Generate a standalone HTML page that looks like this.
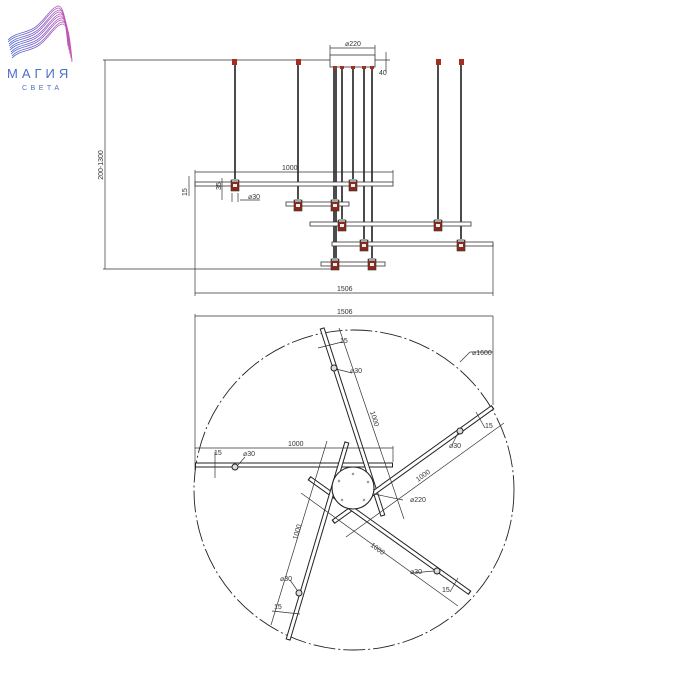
<!DOCTYPE html>
<html><head><meta charset="utf-8"><style>
html,body{margin:0;padding:0;background:#fff;}
svg{display:block;font-family:"Liberation Sans","DejaVu Sans",sans-serif;}
.t{font-size:7px;fill:#333;}
.d{stroke:#333;stroke-width:0.7;fill:none;}
.k{stroke:#111;stroke-width:1.5;}
.bar{stroke:#222;stroke-width:5;stroke-linecap:butt;}
.bari{stroke:#fff;stroke-width:3;stroke-linecap:butt;}
</style></head><body>
<svg width="700" height="700" viewBox="0 0 700 700">
<defs>
<linearGradient id="g" x1="0" x2="1"><stop offset="0" stop-color="#4a68d0"/><stop offset="1" stop-color="#c455b5"/></linearGradient>
<g id="lamp"><rect x="-4" y="-6" width="8" height="11" fill="#8b2a1a" stroke="#333" stroke-width="0.6"/><rect x="-3" y="-7" width="6" height="3" fill="#9aa"/><rect x="-2" y="-2" width="4" height="3" fill="#eee"/></g>
<g id="wave"><path d="M8,40 C16,32 24,34 34,28 C44,22 50,8 58,6 C64,5 66,24 68,44"/></g>
</defs>
<g fill="none" stroke="url(#g)" stroke-width="0.8">
<use href="#wave"/><use href="#wave" x="0" y="2"/><use href="#wave" x="1" y="4"/><use href="#wave" x="1" y="6"/>
<use href="#wave" x="2" y="8"/><use href="#wave" x="2" y="10"/><use href="#wave" x="3" y="12"/><use href="#wave" x="3" y="14"/>
<use href="#wave" x="4" y="16"/><use href="#wave" x="4" y="18"/>
</g>
<rect x="0" y="62" width="90" height="38" fill="#fff"/>
<text x="7" y="78" font-size="13" fill="#4a6fc8" letter-spacing="4">МАГИЯ</text>
<text x="22" y="90" font-size="7" fill="#4a6fc8" letter-spacing="3.5">СВЕТА</text>

<!-- TOP VIEW -->
<line class="d" x1="103" y1="60" x2="390" y2="60"/>
<line class="d" x1="103" y1="269" x2="335" y2="269"/>
<line class="d" x1="105" y1="60" x2="105" y2="269"/>
<text class="t" transform="translate(103,165) rotate(-90)" text-anchor="middle">200-1300</text>
<rect x="330" y="55" width="45" height="12" fill="#fff" stroke="#333" stroke-width="0.8"/>
<line class="d" x1="330" y1="45" x2="330" y2="55"/><line class="d" x1="375" y1="45" x2="375" y2="55"/>
<line class="d" x1="330" y1="48" x2="375" y2="48"/><text class="t" x="345" y="46">⌀220</text>
<line class="d" x1="386" y1="52" x2="386" y2="72"/><text class="t" x="379" y="75">40</text>
<g class="k">
<line x1="235" y1="62" x2="235" y2="184"/><line x1="298" y1="62" x2="298" y2="204"/>
<line x1="334" y1="68" x2="334" y2="264"/><line x1="336" y1="68" x2="336" y2="264"/>
<line x1="342" y1="68" x2="342" y2="224"/><line x1="353" y1="68" x2="353" y2="184"/>
<line x1="364" y1="68" x2="364" y2="244"/><line x1="372" y1="68" x2="372" y2="264"/>
<line x1="438" y1="62" x2="438" y2="224"/><line x1="461" y1="62" x2="461" y2="244"/>
</g>
<g fill="#a3301f"><rect x="232" y="59" width="5" height="6"/><rect x="296" y="59" width="5" height="6"/><rect x="436" y="59" width="5" height="6"/><rect x="459" y="59" width="5" height="6"/>
<rect x="333" y="66" width="4" height="3"/><rect x="340" y="66" width="4" height="3"/><rect x="351" y="66" width="4" height="3"/><rect x="362" y="66" width="4" height="3"/><rect x="370" y="66" width="4" height="3"/></g>
<g fill="#fff" stroke="#333" stroke-width="0.8">
<rect x="195" y="182" width="198" height="4"/><rect x="286" y="202" width="63" height="4"/>
<rect x="310" y="222" width="161" height="4"/><rect x="332" y="242" width="161" height="4"/>
<rect x="321" y="262" width="64" height="4"/></g>
<use href="#lamp" x="235" y="186"/><use href="#lamp" x="353" y="186"/><use href="#lamp" x="298" y="206"/><use href="#lamp" x="335" y="206"/>
<use href="#lamp" x="342" y="226"/><use href="#lamp" x="438" y="226"/><use href="#lamp" x="364" y="246"/><use href="#lamp" x="461" y="246"/>
<use href="#lamp" x="335" y="265"/><use href="#lamp" x="372" y="265"/>
<line class="d" x1="195" y1="172" x2="393" y2="172"/><line class="d" x1="393" y1="170" x2="393" y2="182"/><text class="t" x="282" y="170">1000</text>
<line class="d" x1="189" y1="176" x2="189" y2="196"/><text class="t" transform="translate(187,196) rotate(-90)">15</text>
<line class="d" x1="222" y1="178" x2="222" y2="200"/><text class="t" transform="translate(221,190) rotate(-90)">35</text>
<line class="d" x1="232" y1="193" x2="232" y2="202"/><line class="d" x1="238" y1="193" x2="238" y2="202"/><line class="d" x1="240" y1="200" x2="260" y2="200"/><text class="t" x="248" y="199">⌀30</text>
<line class="d" x1="195" y1="170" x2="195" y2="296"/><line class="d" x1="493" y1="244" x2="493" y2="296"/>
<line class="d" x1="195" y1="293" x2="493" y2="293"/><text class="t" x="337" y="291">1506</text>

<!-- BOTTOM VIEW -->
<line class="d" x1="195" y1="316" x2="493" y2="316"/><line class="d" x1="493" y1="316" x2="493" y2="405"/><line class="d" x1="195" y1="314" x2="195" y2="470"/>
<text class="t" x="337" y="314">1506</text>
<circle cx="354" cy="490" r="160" fill="none" stroke="#222" stroke-width="0.9" stroke-dasharray="22 3 2 3"/>
<line class="d" x1="460" y1="362" x2="470" y2="352"/><line class="d" x1="470" y1="352" x2="493" y2="352"/><text class="t" x="472" y="355" font-size="8">⌀1600</text>
<g>
<line class="bar" x1="195" y1="465" x2="393" y2="465"/><line class="bari" x1="196" y1="465" x2="392" y2="465"/>
<line class="bar" x1="322" y1="328" x2="383" y2="516"/><line class="bari" x1="322.3" y1="329" x2="382.7" y2="515"/>
<line class="bar" x1="493" y1="407" x2="333" y2="522"/><line class="bari" x1="492" y1="407.7" x2="334" y2="521.3"/>
<line class="bar" x1="309" y1="478" x2="470" y2="593"/><line class="bari" x1="310" y1="478.7" x2="469" y2="592.3"/>
<line class="bar" x1="347" y1="442" x2="288" y2="640"/><line class="bari" x1="346.7" y1="443" x2="288.3" y2="639"/>
</g>
<circle cx="353" cy="488" r="21" fill="#fff" stroke="#222" stroke-width="1.1"/>
<g fill="none" stroke="#444" stroke-width="0.5"><circle cx="353" cy="474" r="1"/><circle cx="368" cy="482" r="1"/><circle cx="364" cy="500" r="1"/><circle cx="342" cy="500" r="1"/><circle cx="339" cy="481" r="1"/></g>
<g fill="#ddd" stroke="#222" stroke-width="1"><circle cx="235" cy="467" r="3"/><circle cx="334" cy="368" r="3"/><circle cx="460" cy="431" r="3"/><circle cx="437" cy="571" r="3"/><circle cx="299" cy="593" r="3"/></g>
<line class="d" x1="195" y1="448" x2="393" y2="448"/><line class="d" x1="393" y1="446" x2="393" y2="462"/><text class="t" x="288" y="446">1000</text>
<line class="d" x1="215" y1="452" x2="215" y2="478"/><text class="t" x="214" y="455">15</text>
<line class="d" x1="238" y1="465" x2="245" y2="457"/><text class="t" x="243" y="456">⌀30</text>
<line class="d" x1="339" y1="328" x2="404" y2="519"/><text class="t" transform="translate(370,412) rotate(72)">1000</text>
<line class="d" x1="318" y1="348" x2="342" y2="342"/><text class="t" x="340" y="343">15</text>
<line class="d" x1="336" y1="369" x2="352" y2="373"/><text class="t" x="350" y="373">⌀30</text>
<line class="d" x1="504" y1="423" x2="346" y2="537"/><text class="t" transform="translate(418,482) rotate(-36)">1000</text>
<line class="d" x1="476" y1="412" x2="485" y2="428"/><text class="t" x="485" y="428">15</text>
<line class="d" x1="458" y1="433" x2="452" y2="445"/><text class="t" x="449" y="448">⌀30</text>
<line class="d" x1="374" y1="494" x2="403" y2="500"/><text class="t" x="410" y="502">⌀220</text>
<line class="d" x1="301" y1="493" x2="458" y2="606"/><text class="t" transform="translate(370,546) rotate(36)">1000</text>
<line class="d" x1="458" y1="578" x2="450" y2="592"/><text class="t" x="442" y="592">15</text>
<line class="d" x1="434" y1="571" x2="412" y2="573"/><text class="t" x="410" y="574">⌀30</text>
<line class="d" x1="327" y1="441" x2="271" y2="625"/><text class="t" transform="translate(297,540) rotate(-73)">1000</text>
<line class="d" x1="272" y1="611" x2="300" y2="614"/><text class="t" x="274" y="609">15</text>
<line class="d" x1="297" y1="590" x2="290" y2="580"/><text class="t" x="280" y="581">⌀30</text>
</svg>
</body></html>
